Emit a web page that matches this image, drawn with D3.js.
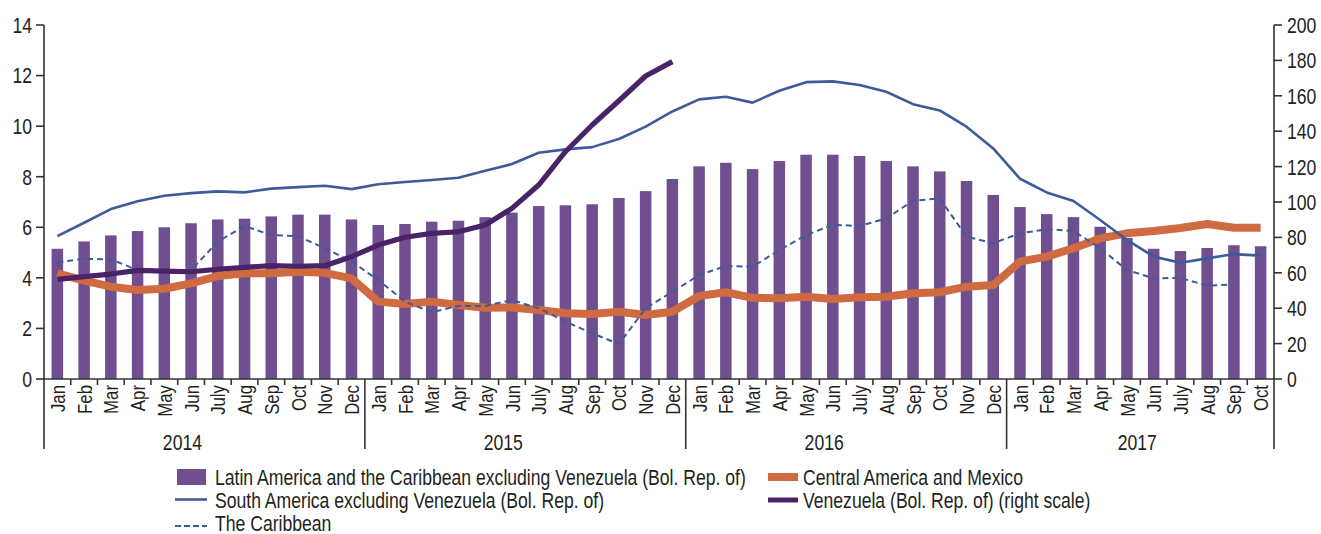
<!DOCTYPE html>
<html>
<head>
<meta charset="utf-8">
<script src="https://cdn.jsdelivr.net/npm/d3@7"></script>
<style>
  html, body { margin: 0; padding: 0; background: #fff; }
  svg { display: block; }
  text { font-family: "Liberation Sans", Arial, sans-serif; fill: #231f20; }
</style>
</head>
<body>
<svg id="chart" width="1321" height="534"></svg>
<script>
// ---------- DATA ----------
const years = ["2014", "2015", "2016", "2017"];
const monthsPerYear = [12, 12, 12, 10];
const monthNames = ["Jan","Feb","Mar","Apr","May","Jun","July","Aug","Sep","Oct","Nov","Dec"];

// Latin America and the Caribbean excluding Venezuela (bars, left scale)
const latinAmerica = [
  5.15, 5.44, 5.68, 5.85, 6.00, 6.16, 6.31, 6.34, 6.43, 6.50, 6.50, 6.31,
  6.09, 6.13, 6.22, 6.26, 6.40, 6.58, 6.84, 6.87, 6.91, 7.16, 7.43, 7.91,
  8.41, 8.55, 8.30, 8.62, 8.87, 8.87, 8.82, 8.62, 8.41, 8.21, 7.83, 7.28,
  6.80, 6.52, 6.40, 6.02, 5.58, 5.15, 5.06, 5.18, 5.29, 5.25
];
// South America excluding Venezuela (left scale)
const southAmerica = [
  5.65, 6.18, 6.72, 7.03, 7.25, 7.35, 7.42, 7.38, 7.53, 7.59, 7.64, 7.51,
  7.70, 7.79, 7.87, 7.96, 8.24, 8.50, 8.95, 9.08, 9.17, 9.49, 9.98, 10.58,
  11.06, 11.16, 10.93, 11.40, 11.74, 11.77, 11.63, 11.36, 10.87, 10.62, 9.98, 9.12,
  7.92, 7.38, 7.04, 6.29, 5.50, 4.84, 4.60, 4.77, 4.94, 4.88
];
// The Caribbean (left scale)
const caribbean = [
  4.61, 4.76, 4.73, 4.31, 4.30, 4.30, 5.43, 6.05, 5.69, 5.65, 5.17, 4.65,
  3.91, 3.06, 2.64, 2.89, 2.89, 3.12, 2.80, 2.27, 1.81, 1.38, 2.80, 3.45,
  4.11, 4.47, 4.44, 5.10, 5.69, 6.10, 6.05, 6.35, 7.05, 7.14, 5.63, 5.37,
  5.76, 5.92, 5.86, 5.17, 4.31, 3.98, 4.00, 3.69, 3.74, null
];
// Central America and Mexico (left scale)
const centralAmerica = [
  4.18, 3.89, 3.65, 3.52, 3.57, 3.78, 4.07, 4.18, 4.18, 4.24, 4.20, 3.98,
  3.06, 2.97, 3.06, 2.93, 2.82, 2.83, 2.73, 2.60, 2.57, 2.66, 2.53, 2.66,
  3.28, 3.43, 3.21, 3.19, 3.25, 3.16, 3.23, 3.25, 3.39, 3.43, 3.65, 3.72,
  4.64, 4.84, 5.17, 5.56, 5.76, 5.85, 5.97, 6.13, 5.98, 5.98
];
// Venezuela (Bol. Rep. of) (right scale)
const venezuela = [
  56.3, 57.8, 59.3, 61.4, 61.0, 60.6, 62.0, 63.1, 64.0, 63.7, 64.0, 69.1,
  75.7, 80.1, 82.3, 83.2, 87.0, 96.4, 109.6, 128.4, 143.5, 157.2, 171.2, 179.3,
  null, null, null, null, null, null, null, null, null, null, null, null,
  null, null, null, null, null, null, null, null, null, null
];

const leftTicks = [0, 2, 4, 6, 8, 10, 12, 14];
const rightTicks = [0, 20, 40, 60, 80, 100, 120, 140, 160, 180, 200];

const legendLabels = {
  bars: "Latin America and the Caribbean excluding Venezuela (Bol. Rep. of)",
  south: "South America excluding Venezuela (Bol. Rep. of)",
  carib: "The Caribbean",
  central: "Central America and Mexico",
  ven: "Venezuela (Bol. Rep. of) (right scale)"
};

// ---------- BUILD ----------
const months = [];
years.forEach((y, yi) => {
  for (let m = 0; m < monthsPerYear[yi]; m++) months.push({ key: y + "-" + m, year: y, name: monthNames[m] });
});
const keys = months.map(d => d.key);

const colors = {
  bar: "#704f91",
  south: "#3d5a9a",
  carib: "#3d5a9a",
  central: "#d06a41",
  ven: "#4a2268",
  axis: "#333333"
};

const M = { left: 44, right: 1274, top: 25, bottom: 379 };
const svg = d3.select("#chart");
const CF = 0.8; // horizontal condense factor (mimics a narrow typeface)

function addText(parent, px, py, str, size, anchor, rotate, dy) {
  return parent.append("text")
    .attr("transform", `translate(${px},${py})` + (rotate ? ` rotate(${rotate})` : "") + ` scale(${CF},1)`)
    .attr("text-anchor", anchor || "start")
    .attr("dy", dy || null)
    .attr("font-size", size)
    .text(str);
}

const x = d3.scaleBand().domain(keys).range([M.left, M.right]).paddingInner(0).paddingOuter(0);
const bw = x.bandwidth();
const yL = d3.scaleLinear().domain([0, 14]).range([M.bottom, M.top]);
const yR = d3.scaleLinear().domain([0, 200]).range([M.bottom, M.top]);

// bars
const barW = bw * 0.43;
svg.append("g").selectAll("rect").data(latinAmerica).join("rect")
  .attr("x", (d, i) => x(keys[i]) + (bw - barW) / 2)
  .attr("width", barW)
  .attr("y", d => yL(d))
  .attr("height", d => yL(0) - yL(d))
  .attr("fill", colors.bar);

const cx = i => x(keys[i]) + bw / 2;
function lineGen(scale) {
  return d3.line().defined(d => d != null).x((d, i) => cx(i)).y(d => scale(d)).curve(d3.curveLinear);
}

svg.append("path").datum(centralAmerica).attr("d", lineGen(yL))
  .attr("fill", "none").attr("stroke", colors.central).attr("stroke-width", 8)
  .attr("stroke-linejoin", "round");
svg.append("path").datum(caribbean).attr("d", lineGen(yL))
  .attr("fill", "none").attr("stroke", colors.carib).attr("stroke-width", 2)
  .attr("stroke-dasharray", "6,4");
svg.append("path").datum(southAmerica).attr("d", lineGen(yL))
  .attr("fill", "none").attr("stroke", colors.south).attr("stroke-width", 2.6)
  .attr("stroke-linejoin", "round");
svg.append("path").datum(venezuela).attr("d", lineGen(yR))
  .attr("fill", "none").attr("stroke", colors.ven).attr("stroke-width", 5.2)
  .attr("stroke-linejoin", "round");

// ---------- AXES ----------
const axisG = svg.append("g").attr("stroke", colors.axis).attr("stroke-width", 1.6);
axisG.append("line").attr("x1", M.left).attr("x2", M.left).attr("y1", M.top).attr("y2", 449);
axisG.append("line").attr("x1", M.right).attr("x2", M.right).attr("y1", M.top).attr("y2", 449);
axisG.append("line").attr("x1", M.left).attr("x2", M.right).attr("y1", yL(0)).attr("y2", yL(0));

const lt = svg.append("g");
leftTicks.forEach(t => {
  lt.append("line").attr("x1", M.left - 8).attr("x2", M.left).attr("y1", yL(t)).attr("y2", yL(t))
    .attr("stroke", colors.axis).attr("stroke-width", 1.6);
  addText(lt, 32, yL(t), t, 22, "end", 0, "0.36em");
});
const rt = svg.append("g");
rightTicks.forEach(t => {
  rt.append("line").attr("x1", M.right).attr("x2", M.right + 8).attr("y1", yR(t)).attr("y2", yR(t))
    .attr("stroke", colors.axis).attr("stroke-width", 1.6);
  addText(rt, 1287, yR(t), t, 22, "start", 0, "0.36em");
});

let idx = 0;
const catG = svg.append("g");
years.forEach((yr, yi) => {
  const n = monthsPerYear[yi];
  const start = x(keys[idx]);
  const end = x(keys[idx + n - 1]) + bw;
  for (let m = 1; m < n; m++) {
    const bx = x(keys[idx + m]);
    catG.append("line").attr("x1", bx).attr("x2", bx).attr("y1", yL(0)).attr("y2", yL(0) + 6)
      .attr("stroke", colors.axis).attr("stroke-width", 1.6);
  }
  if (yi > 0) {
    catG.append("line").attr("x1", start).attr("x2", start).attr("y1", yL(0)).attr("y2", 449)
      .attr("stroke", colors.axis).attr("stroke-width", 1.6);
  }
  const shift = n === 12 ? -22 : -3;
  addText(catG, (start + end) / 2 + shift, 450, yr, 22, "middle");
  idx += n;
});

const monthG = svg.append("g");
months.forEach((d, i) => addText(monthG, cx(i), yL(0) + 6, d.name, 21, "end", -90, "0.36em"));

// ---------- LEGEND ----------
const lg = svg.append("g");
lg.append("rect").attr("x", 177).attr("y", 469).attr("width", 29).attr("height", 16).attr("fill", colors.bar);
addText(lg, 215, 485, legendLabels.bars, 22, "start");
lg.append("line").attr("x1", 175).attr("x2", 207).attr("y1", 499.5).attr("y2", 499.5)
  .attr("stroke", colors.south).attr("stroke-width", 2.6);
addText(lg, 215, 508, legendLabels.south, 22, "start");
lg.append("line").attr("x1", 175).attr("x2", 207).attr("y1", 526).attr("y2", 526)
  .attr("stroke", colors.carib).attr("stroke-width", 2).attr("stroke-dasharray", "6,3");
addText(lg, 215, 531, legendLabels.carib, 22, "start");
lg.append("line").attr("x1", 768).attr("x2", 798).attr("y1", 477).attr("y2", 477)
  .attr("stroke", colors.central).attr("stroke-width", 8);
addText(lg, 803, 485, legendLabels.central, 22, "start");
lg.append("line").attr("x1", 768).attr("x2", 798).attr("y1", 500).attr("y2", 500)
  .attr("stroke", colors.ven).attr("stroke-width", 5);
addText(lg, 803, 508, legendLabels.ven, 22, "start");
</script>
</body>
</html>
